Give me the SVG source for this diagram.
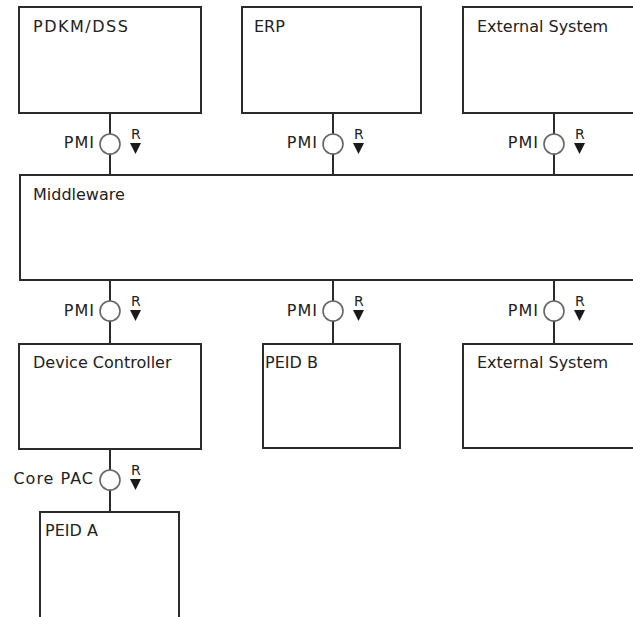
<svg xmlns="http://www.w3.org/2000/svg" width="633" height="617" viewBox="0 0 633 617">
<defs>
<style>
.box{fill:#fff;stroke:#2b2b2b;stroke-width:2}
.lbl{font-family:"DejaVu Sans",sans-serif;font-size:16px;fill:#222}
.wire{stroke:#2b2b2b;stroke-width:2;fill:none}
.port{fill:#fff;stroke:#666;stroke-width:1.6}
.r{font-family:"DejaVu Sans",sans-serif;font-size:14px;fill:#222}
.tri{fill:#1a1a1a}
.plbl{font-family:"DejaVu Sans",sans-serif;font-size:16px;fill:#222;text-anchor:end;letter-spacing:1px}
</style>
<g id="iface">
<circle class="port" cx="0" cy="0" r="10"/>
<text class="r" x="21" y="-5">R</text>
<polygon class="tri" points="20,-1 31,-1 25.5,10"/>
</g>
</defs>
<rect width="633" height="617" fill="#fff"/>
<g id="connectors">
<line class="wire" x1="110" y1="113" x2="110" y2="175"/>
<line class="wire" x1="333" y1="113" x2="333" y2="175"/>
<line class="wire" x1="554" y1="113" x2="554" y2="175"/>
<line class="wire" x1="110" y1="280" x2="110" y2="344"/>
<line class="wire" x1="333" y1="280" x2="333" y2="344"/>
<line class="wire" x1="554" y1="280" x2="554" y2="344"/>
<line class="wire" x1="110" y1="449" x2="110" y2="512"/>
<use href="#iface" x="110" y="144"/>
<use href="#iface" x="333" y="144"/>
<use href="#iface" x="554" y="144"/>
<use href="#iface" x="110" y="311"/>
<use href="#iface" x="333" y="311"/>
<use href="#iface" x="554" y="311"/>
<use href="#iface" x="110" y="480"/>
<text class="plbl" x="95" y="148">PMI</text>
<text class="plbl" x="318" y="148">PMI</text>
<text class="plbl" x="539" y="148">PMI</text>
<text class="plbl" x="95" y="316">PMI</text>
<text class="plbl" x="318" y="316">PMI</text>
<text class="plbl" x="539" y="316">PMI</text>
<text class="plbl" x="94" y="484">Core PAC</text>
</g>
<g id="pdkm">
<rect class="box" x="19" y="7" width="182" height="106"/>
<text class="lbl" x="33" y="32" style="letter-spacing:1.5px">PDKM/DSS</text>
</g>
<g id="erp">
<rect class="box" x="242" y="7" width="179" height="106"/>
<text class="lbl" x="254" y="32">ERP</text>
</g>
<g id="ext-top">
<rect class="box" x="463" y="7" width="185" height="106"/>
<text class="lbl" x="477" y="32">External System</text>
</g>
<g id="middleware">
<rect class="box" x="20" y="175" width="628" height="105"/>
<text class="lbl" x="33" y="200">Middleware</text>
</g>
<g id="device-controller">
<rect class="box" x="19" y="344" width="182" height="105"/>
<text class="lbl" x="33" y="368">Device Controller</text>
</g>
<g id="peid-b">
<rect class="box" x="263" y="344" width="137" height="104"/>
<text class="lbl" x="265" y="368">PEID B</text>
</g>
<g id="ext-bottom">
<rect class="box" x="463" y="344" width="185" height="104"/>
<text class="lbl" x="477" y="368">External System</text>
</g>
<g id="peid-a">
<rect class="box" x="40" y="512" width="139" height="115"/>
<text class="lbl" x="45" y="536">PEID A</text>
</g>
</svg>
